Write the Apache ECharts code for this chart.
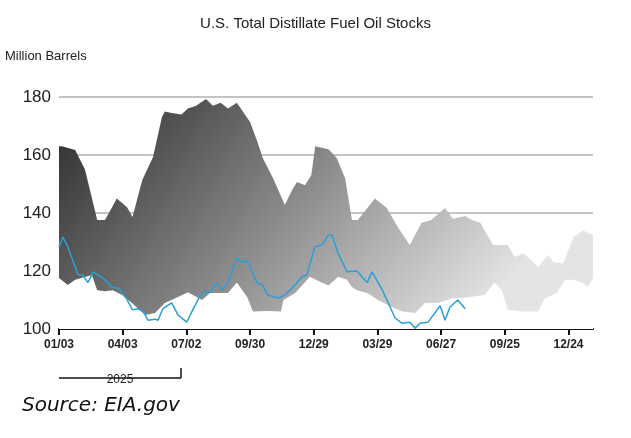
<!DOCTYPE html>
<html>
<head>
<meta charset="utf-8">
<script src="https://cdn.jsdelivr.net/npm/echarts@6/dist/echarts.min.js"></script>
<style>
  html, body { margin: 0; padding: 0; background: #fff; }
  #chart { width: 631px; height: 438px; }
</style>
</head>
<body>
<div id="chart"></div>
<script>
// week index -> value
const tickLabels = ['01/03', '04/03', '07/02', '09/30', '12/29', '03/29', '06/27', '09/25', '12/24'];

const rangeHigh = [
    [0, 163], [0.6, 163], [3.3, 161.7], [5.3, 155], [6.3, 148], [7.8, 137.6], [9.4, 137.6],
    [11.8, 145], [13.9, 142], [15, 138.6], [17, 151.4], [19.2, 159.3], [21, 173], [21.6, 175],
    [23, 174.5], [25, 174], [26.3, 176], [28, 177], [30, 179.3], [31.4, 177], [33, 178],
    [34.5, 176], [36.3, 178], [39, 171.4], [40.4, 165], [41.6, 159], [43.7, 152], [46.1, 142.8],
    [47.6, 148], [48.6, 150.7], [50.2, 149.6], [51.5, 153], [52.3, 163], [55, 162], [56.7, 159],
    [58.4, 152], [59.8, 137.6], [61, 137.6], [64.5, 145], [66.9, 141.7], [69.2, 135], [71.6, 129],
    [74, 136.6], [76, 137.6], [78.8, 141.7], [80.4, 138], [82.9, 139], [84.3, 137.6], [86, 136.6],
    [88.6, 129], [91.6, 129], [93, 124.8], [94.7, 126], [95.7, 124.8], [97.8, 121.4], [99.8, 125.5],
    [101, 123], [102.9, 122.6], [105, 131.7], [107, 134], [109, 132.4]
];

const rangeLow = [
    [0, 117.6], [1.8, 115.2], [3.3, 117], [6.7, 118.6], [7.8, 113.4], [9.4, 113], [11, 113.4],
    [12.9, 111.7], [14.9, 109], [17.6, 104.8], [19.6, 105.5], [21.6, 109], [24.3, 111], [26.3, 112.7],
    [29.2, 110], [30.8, 112.4], [34.5, 112.4], [36.3, 116], [38.4, 111], [39.6, 106], [42.6, 106.2],
    [45.3, 106], [45.8, 110], [48.2, 112.4], [51.2, 118], [53.6, 116], [55, 115], [57, 118],
    [58.8, 117], [59.8, 114.5], [60.8, 113.4], [62.9, 112.4], [65.1, 110], [68, 107.6], [70, 106],
    [72.7, 105.5], [74.7, 109], [77.4, 109], [80.2, 110.6], [82.3, 110.6], [83.9, 111], [86.9, 111.7],
    [88.9, 116], [90.4, 113.4], [91.6, 106.6], [94.5, 106], [97.8, 106], [99.2, 110.6], [101.6, 112.4],
    [103.3, 117], [105, 117], [106.7, 116], [108, 114.5], [109, 117.6]
];

const stocks2025 = [
    [0, 128.3], [0.8, 131.7], [1.8, 128.3], [3.9, 118.6], [4.9, 118.6], [5.9, 116], [7, 119.7],
    [9.4, 117], [10.8, 114.5], [12.2, 114], [13.7, 110.7], [15, 106.6], [16.1, 107], [17.2, 106],
    [18.2, 103], [19.6, 103.4], [20.2, 103], [21.2, 107], [23, 109], [24.3, 104.8], [26.1, 102.4],
    [27.3, 106.6], [29.2, 112.7], [30.8, 112.7], [32.2, 116], [33.3, 113.4], [34.5, 116],
    [36.3, 124.5], [37.6, 123], [38.4, 123.5], [40.4, 116], [41.6, 115], [42.6, 111.7], [44.7, 110.7],
    [46.1, 111.7], [47.8, 114.5], [49.6, 118], [50.6, 118.6], [52.2, 128.3], [53.7, 129],
    [55, 132.4], [55.7, 132.4], [57, 126], [58.8, 119.7], [60.8, 120], [62.9, 116], [63.9, 119.7],
    [66, 113.4], [68.6, 103.8], [70, 102], [71.6, 102.3], [72.7, 100.3], [73.7, 102], [75.3, 102.3],
    [77.8, 108], [78.8, 103], [79.8, 107.6], [81.4, 110], [82.9, 107]
];

const chart = echarts.init(document.getElementById('chart'));
const font = 'Liberation Sans, Arial, sans-serif';

chart.setOption({
    animation: false,
    title: {
        text: 'U.S. Total Distillate Fuel Oil Stocks',
        left: 'center',
        top: 11,
        textStyle: { fontFamily: font, fontSize: 15, fontWeight: 'normal', color: '#222' }
    },
    grid: { left: 59, right: 38, top: 97, bottom: 109 },
    xAxis: {
        type: 'value',
        min: 0,
        max: 109,
        interval: 13,
        splitLine: { show: false },
        axisLine: { lineStyle: { color: '#111', width: 2 } },
        axisTick: { show: true, length: 6, lineStyle: { color: '#111', width: 2 } },
        axisLabel: {
            fontFamily: font, fontSize: 12, fontWeight: 'bold', color: '#222', margin: 10,
            formatter: function (v) {
                const i = Math.round(v / 13);
                return tickLabels[i] || '';
            }
        }
    },
    yAxis: {
        type: 'value',
        min: 100,
        max: 180,
        interval: 20,
        axisLine: { show: false },
        axisTick: { show: false },
        axisLabel: { fontFamily: font, fontSize: 17, color: '#222', margin: 8 },
        splitLine: { lineStyle: { color: '#c4c4c4', width: 2 } }
    },
    series: [{
        type: 'line',
        data: rangeHigh,
        symbol: 'none',
        lineStyle: { width: 0 },
        areaStyle: {
            opacity: 1,
            color: {
                type: 'linear', global: true, x: 100, y: 90, x2: 420, y2: 380,
                colorStops: [
                    { offset: 0, color: '#333333' },
                    { offset: 0.5, color: '#8a8a8a' },
                    { offset: 1, color: '#e4e4e4' }
                ]
            }
        },
        z: 2
    }, {
        type: 'line',
        data: rangeLow,
        symbol: 'none',
        lineStyle: { width: 0 },
        areaStyle: { opacity: 1, color: '#ffffff' },
        z: 3
    }, {
        type: 'line',
        data: stocks2025,
        symbol: 'none',
        lineStyle: { color: '#2a9fd6', width: 1.5 },
        z: 4
    }],
    graphic: [{
        type: 'text', left: 5, top: 50,
        style: { text: 'Million Barrels', fontFamily: font, fontSize: 13, fill: '#222' }
    }, {
        type: 'line', shape: { x1: 59, y1: 378, x2: 181, y2: 378 },
        style: { stroke: '#111', lineWidth: 1.5 }
    }, {
        type: 'line', shape: { x1: 181, y1: 378, x2: 181, y2: 368 },
        style: { stroke: '#111', lineWidth: 1.5 }
    }, {
        type: 'rect', shape: { x: 104, y: 372, width: 32, height: 5 },
        style: { fill: '#fff' }
    }, {
        type: 'text', x: 120, y: 380,
        style: { text: '2025', fontFamily: font, fontSize: 12, fill: '#222', align: 'center', verticalAlign: 'middle' }
    }, {
        type: 'text', left: 22, top: 396,
        style: { text: 'Source: EIA.gov', fontFamily: 'DejaVu Sans', fontStyle: 'italic', fontSize: 20, fill: '#111' }
    }]
});
</script>
</body>
</html>
